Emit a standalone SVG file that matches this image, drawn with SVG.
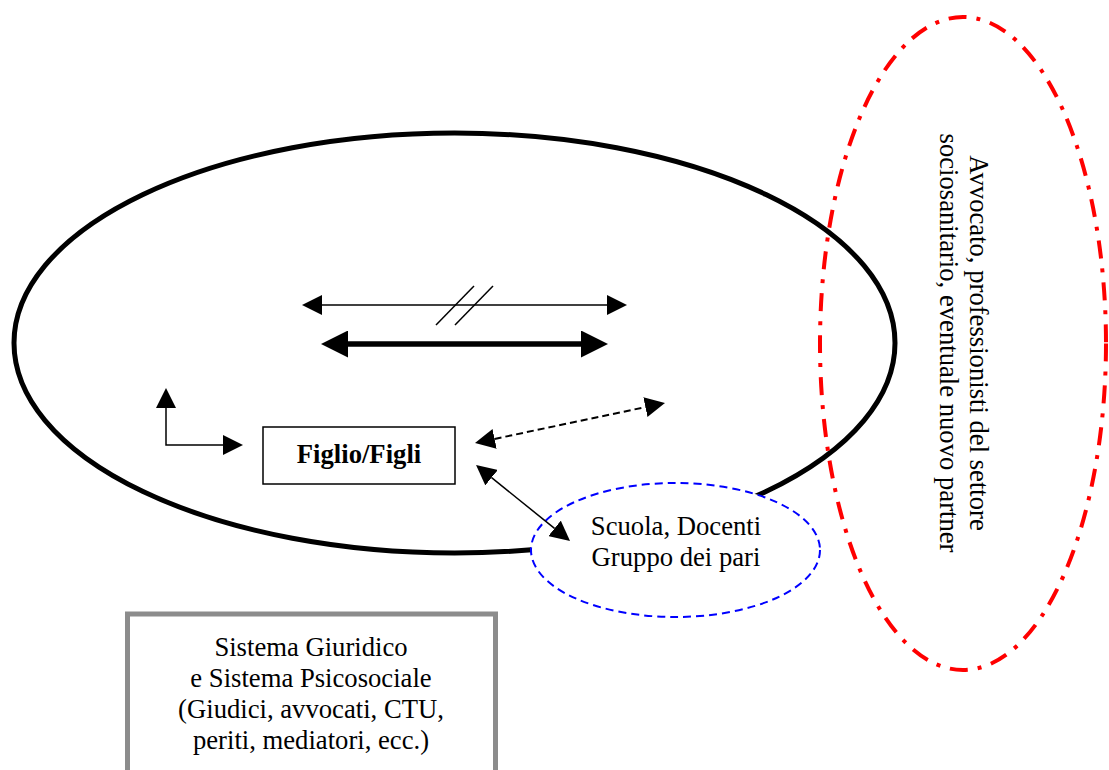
<svg xmlns="http://www.w3.org/2000/svg" width="1109" height="770" viewBox="0 0 1109 770">
  <style>
    .t { font-family: "Liberation Serif", "Times New Roman", serif; font-size: 26.67px; fill: #000; }
    .b { font-weight: bold; }
    .thin { stroke: #000; stroke-width: 1.5; fill: none; }
  </style>
  <defs>
    <marker id="ah" markerUnits="userSpaceOnUse" markerWidth="20" markerHeight="20" refX="0" refY="10" orient="auto-start-reverse" viewBox="0 0 20 20">
      <path d="M0,0 L20,10 L0,20 z" fill="#000"/>
    </marker>
    <marker id="ahBig" markerUnits="userSpaceOnUse" markerWidth="27" markerHeight="27" refX="0" refY="13.5" orient="auto-start-reverse" viewBox="0 0 27 27">
      <path d="M0,0 L27,13.5 L0,27 z" fill="#000"/>
    </marker>
  </defs>
  <rect width="1109" height="770" fill="#fff"/>

  <g id="famiglia">
    <ellipse cx="454.5" cy="343" rx="440.5" ry="210" fill="none" stroke="#000" stroke-width="5"/>
  </g>

  <g id="scuola">
    <ellipse cx="675.5" cy="550" rx="144.5" ry="67" fill="#fff" stroke="#0000ff" stroke-width="2" stroke-dasharray="8 5"/>
    <text class="t" x="676" y="535" text-anchor="middle">Scuola, Docenti</text>
    <text class="t" x="676" y="566" text-anchor="middle">Gruppo dei pari</text>
  </g>

  <g id="figlio">
    <rect x="263" y="427" width="192" height="57" fill="#fff" stroke="#000" stroke-width="1.5"/>
    <text class="t b" x="359" y="463" text-anchor="middle">Figlio/Figli</text>
  </g>

  <g id="sistema">
    <rect x="127.5" y="614" width="368" height="200" fill="#fff" stroke="#8c8c8c" stroke-width="5"/>
    <text class="t" x="311" y="656" text-anchor="middle">Sistema Giuridico</text>
    <text class="t" x="311" y="687" text-anchor="middle">e Sistema Psicosociale</text>
    <text class="t" x="311" y="718" text-anchor="middle">(Giudici, avvocati, CTU,</text>
    <text class="t" x="311" y="749" text-anchor="middle">periti, mediatori, ecc.)</text>
  </g>

  <g id="connectors">
    <line class="thin" x1="322" y1="305" x2="607" y2="305" marker-start="url(#ah)" marker-end="url(#ah)"/>
    <line class="thin" x1="436" y1="325" x2="474" y2="286"/>
    <line class="thin" x1="455" y1="325" x2="493" y2="286"/>
    <line x1="348" y1="344" x2="581" y2="344" stroke="#000" stroke-width="5.5" marker-start="url(#ahBig)" marker-end="url(#ahBig)"/>
    <path class="thin" d="M166,408 L166,445 L223,445" marker-start="url(#ah)" marker-end="url(#ah)"/>
    <line x1="494.6" y1="438.9" x2="645.4" y2="407.1" stroke="#000" stroke-width="2" stroke-dasharray="7 4" marker-start="url(#ah)" marker-end="url(#ah)"/>
    <line class="thin" x1="491.6" y1="477.6" x2="554.5" y2="528.4" marker-start="url(#ah)" marker-end="url(#ah)"/>
  </g>

  <g id="professionisti">
    <ellipse cx="963" cy="343.5" rx="143" ry="326.5" fill="none" stroke="#ff0000" stroke-width="4" stroke-dasharray="18 10 4 10"/>
    <g transform="translate(970,343) rotate(90)">
      <text class="t" x="0" y="0" text-anchor="middle">Avvocato, professionisti del settore</text>
      <text class="t" x="0" y="30" text-anchor="middle">sociosanitario, eventuale nuovo partner</text>
    </g>
  </g>
</svg>
